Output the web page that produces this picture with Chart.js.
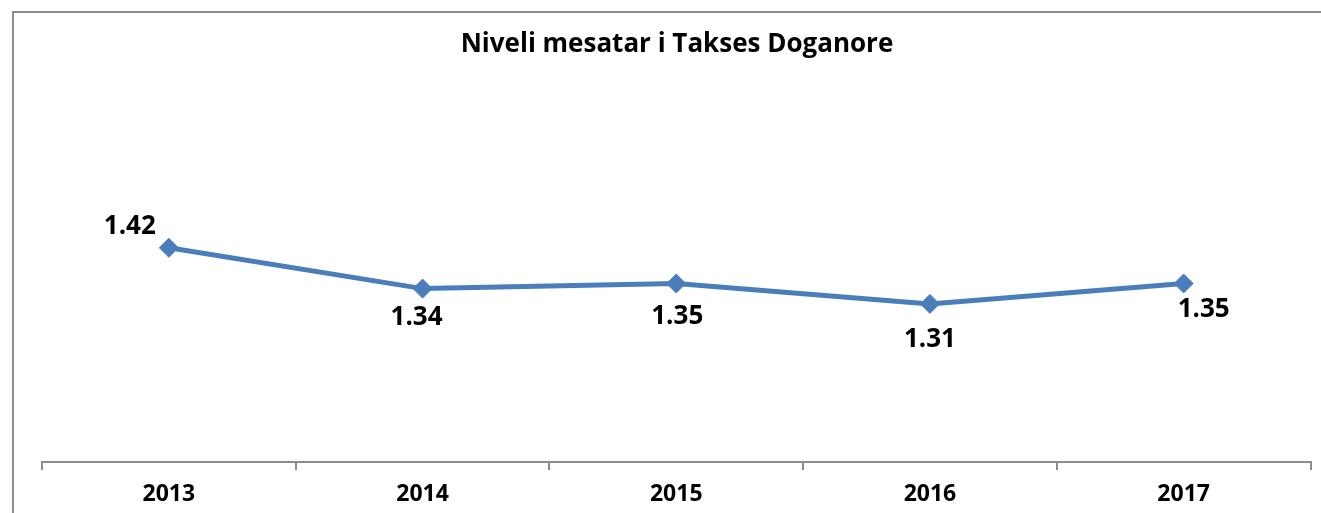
<!DOCTYPE html>
<html>
<head>
<meta charset="utf-8">
<script src="https://cdn.jsdelivr.net/npm/chart.js@4.4.0/dist/chart.umd.min.js"></script>
<style>
	html, body { margin: 0; padding: 0; background: #fff; overflow: hidden; }
	#wrap { position: relative; width: 1321px; height: 513px; }
</style>
</head>
<body>
<div id="wrap"><canvas id="chart"></canvas></div>
<script>
'use strict';

// Data
var years = ['2013', '2014', '2015', '2016', '2017'];
var tariffLevel = [1.42, 1.34, 1.35, 1.31, 1.35];
var chartTitle = 'Niveli mesatar i Takses Doganore';

var BLUE = '#4a7ebb',
	GREY = '#8c8c8c',
	FONT = '"Open Sans"';

// Outer frame (only top and left edges are inside the shot)
var framePlugin = {
	id: 'frame',
	beforeDraw: function (chart) {
		var ctx = chart.ctx;
		ctx.save();
		ctx.strokeStyle = GREY;
		ctx.lineWidth = 2;
		ctx.beginPath();
		ctx.moveTo(13, chart.height + 2);
		ctx.lineTo(13, 12);
		ctx.lineTo(chart.width + 2, 12);
		ctx.stroke();
		ctx.restore();
	}
};

// Value labels, placed by hand like the original
var valueLabels = {
	id: 'valueLabels',
	afterDatasetsDraw: function (chart, args, opts) {
		var ctx = chart.ctx,
			meta = chart.getDatasetMeta(0),
			size = opts.size;
		ctx.save();
		ctx.font = 'bold ' + size + 'px ' + FONT;
		ctx.fillStyle = '#000';
		ctx.textAlign = 'center';
		ctx.textBaseline = 'alphabetic';
		meta.data.forEach(function (pt, i) {
			var off = opts.offsets[i],
				v = chart.data.datasets[0].data[i];
			// centre of the digits sits at pt + off
			ctx.fillText(v.toFixed(2), pt.x + off[0], pt.y + off[1] + size * 0.36);
		});
		ctx.restore();
	}
};

new Chart(document.getElementById('chart'), {
	type: 'line',
	data: {
		labels: years,
		datasets: [{
			data: tariffLevel,
			borderColor: BLUE,
			backgroundColor: BLUE,
			borderWidth: 5,
			pointStyle: 'rectRot',
			pointRadius: 9.5,
			pointHoverRadius: 9.5,
			pointBackgroundColor: BLUE,
			pointBorderColor: BLUE,
			pointBorderWidth: 1,
			tension: 0
		}]
	},
	options: {
		responsive: true,
		maintainAspectRatio: false,
		animation: false,
		layout: {
			padding: { left: 42, right: 9, top: 0, bottom: -6.6 }
		},
		plugins: {
			legend: { display: false },
			tooltip: { enabled: false },
			title: {
				display: true,
				text: chartTitle,
				color: '#000',
				font: { family: FONT, size: 26, weight: 'bold' },
				padding: { top: 28.5, bottom: 45.3 }
			},
			valueLabels: {
				size: 26,
				offsets: [[-39, -23], [-6, 27], [1, 31], [0, 34], [20, 24]]
			}
		},
		scales: {
			x: {
				offset: true,
				border: { display: true, color: GREY, width: 2 },
				grid: {
					offset: true,
					drawOnChartArea: false,
					drawTicks: true,
					tickLength: 8,
					color: GREY,
					lineWidth: 2
				},
				ticks: {
					color: '#000',
					padding: 11,
					font: { family: FONT, size: 23, weight: 'bold' }
				}
			},
			y: {
				display: false,
				min: 1,
				max: 1.7
			}
		}
	},
	plugins: [framePlugin, valueLabels]
});
</script>
</body>
</html>
